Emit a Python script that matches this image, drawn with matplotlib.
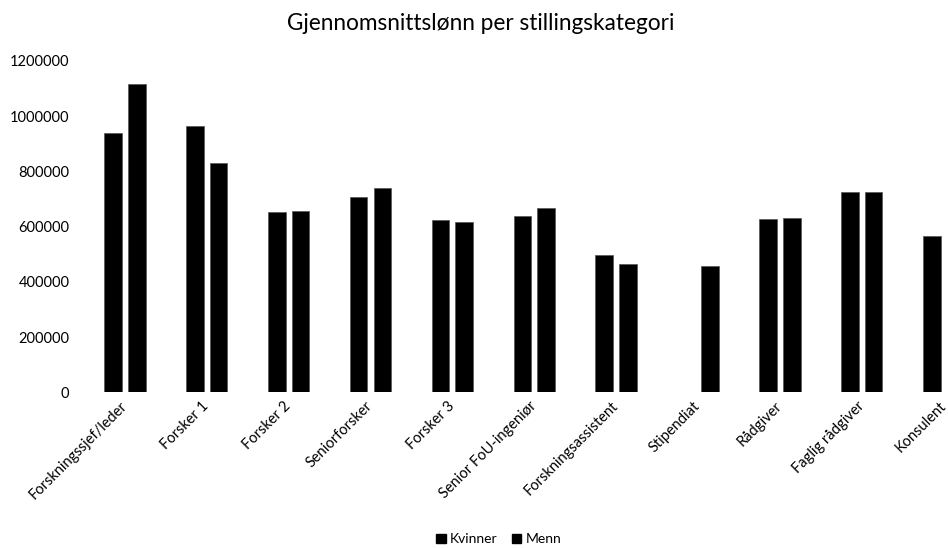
import numpy as np
import matplotlib.pyplot as plt
from matplotlib.patches import Patch

plt.rcParams['font.family'] = ['Lato', 'DejaVu Sans']

categories = ['Forskningssjef/leder', 'Forsker 1', 'Forsker 2', 'Seniorforsker',
              'Forsker 3', 'Senior FoU-ingeniør', 'Forskningsassistent',
              'Stipendiat', 'Rådgiver', 'Faglig rådgiver', 'Konsulent']
kvinner = [937000, 964000, 652000, 706000, 623000, 639000, 497000,
           np.nan, 627000, 726000, 567000]
menn = [1115000, 831000, 655000, 741000, 617000, 666000, 466000,
        456000, 631000, 726000, np.nan]
yticks = [0, 200000, 400000, 600000, 800000, 1000000, 1200000]

fig = plt.figure(figsize=(9.48, 5.48), dpi=100)
ax = fig.add_axes([0.0886, 0.2838, 0.950, 0.6054])

x = np.arange(len(categories))
w = 0.215
ax.bar(x - 0.145, kvinner, width=w, color='black', edgecolor='#555555', linewidth=0.5)
ax.bar(x + 0.145, menn, width=w, color='black', edgecolor='#555555', linewidth=0.5)

ax.set_xlim(-0.5, len(categories) - 0.5)
ax.set_ylim(0, 1200000)
ax.set_yticks(yticks)
ax.set_yticklabels([str(v) for v in yticks], fontsize=10.5)
ax.set_xticks(x)
ax.set_xticklabels(categories, rotation=45, ha='right', va='center',
                   rotation_mode='anchor', fontsize=10.5)
ax.tick_params(axis='both', length=0)
ax.tick_params(axis='x', pad=8)
ax.tick_params(axis='y', pad=10.5)
for s in ax.spines.values():
    s.set_visible(False)

fig.text(0.507, 0.958, 'Gjennomsnittslønn per stillingskategori',
         ha='center', va='center', fontsize=16.3)

handles = [Patch(facecolor='black', edgecolor='black'),
           Patch(facecolor='black', edgecolor='black')]
fig.legend(handles, ['Kvinner', 'Menn'], loc='center', bbox_to_anchor=(0.526, 0.016),
           ncol=2, frameon=False, fontsize=10, handlelength=0.7, handleheight=0.7,
           handletextpad=0.3, columnspacing=1.0)

fig.savefig('out.png', dpi=100)
